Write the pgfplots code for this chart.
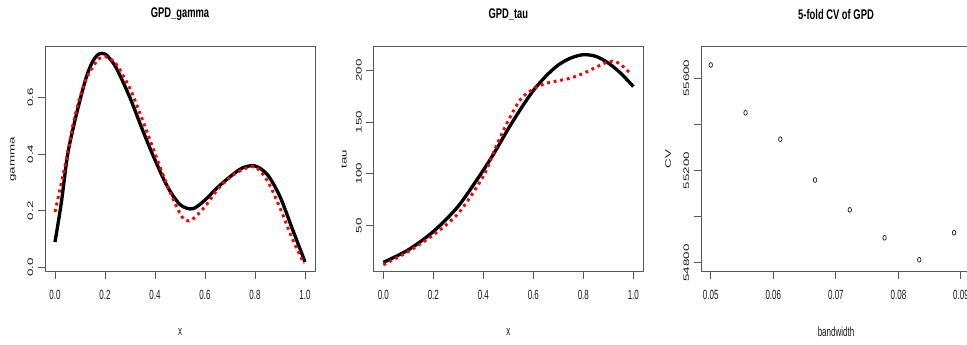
\documentclass[border=0pt]{standalone}
\usepackage{fontspec}
\setmainfont{Liberation Sans}
\usepackage{graphicx}
\usepackage{pgfplots}
\pgfplotsset{compat=1.18}
\newcommand{\hx}[1]{\scalebox{0.6}[1]{#1}}
\newcommand{\vx}[1]{\scalebox{1}[0.6]{#1}}
\newcommand{\hb}[1]{\scalebox{0.67}[1]{#1}}
\newcommand{\tk}{\fontsize{10}{10}\selectfont}
\definecolor{fr}{gray}{0.35}
\pgfplotsset{rstyle/.style={
  scale only axis, width=202.5pt, height=169.1pt,
  axis line style={draw=fr, line width=0.75pt},
  every tick/.style={draw=fr, line width=0.75pt},
  tick align=outside, major tick length=5.25pt,
  tick pos=left,
  title style={at={(0.5,1.142)}, anchor=center, yshift=-6pt, font=\fontsize{10.5}{12}\selectfont\bfseries},
  xlabel style={at={(0.5,-0.266)}, anchor=center, font=\tk, text=black!90},
  ylabel style={anchor=center, font=\tk, text=black!90},
  xticklabel style={font=\tk, text=black!90, yshift=-4.5pt},
  yticklabel style={font=\tk, text=black!90, rotate=90, anchor=south},
  clip=true,
}}
\begin{document}
\begin{tikzpicture}
% Panel 1
\begin{axis}[rstyle, at={(33.75pt,54.75pt)}, anchor=south west,
  xmin=-0.04, xmax=1.04, ymin=-0.0155, ymax=0.7785,
  xtick={0,0.2,0.4,0.6,0.8,1}, xticklabels={\hx{0.0},\hx{0.2},\hx{0.4},\hx{0.6},\hx{0.8},\hx{1.0}},
  ytick={0,0.2,0.4,0.6}, yticklabels={\vx{0.0},\vx{0.2},\vx{0.4},\vx{0.6}},
  title={\hb{GPD\_gamma}}, xlabel={\hx{x}}, ylabel={\vx{gamma}},
  ylabel style={at={(-0.117,0.5)}}]
\addplot[black, line width=2.5pt, smooth] coordinates {
(0,0.09) (0.025,0.227) (0.05,0.395) (0.075,0.50) (0.1,0.59) (0.125,0.67) (0.15,0.725) (0.175,0.752) (0.2,0.752) (0.225,0.73) (0.25,0.695) (0.3,0.598) (0.35,0.485) (0.4,0.379) (0.45,0.285) (0.5,0.222) (0.55,0.207) (0.6,0.238) (0.65,0.282) (0.7,0.32) (0.75,0.351) (0.8,0.358) (0.85,0.327) (0.9,0.25) (0.95,0.135) (1.0,0.02)};
\addplot[red, line width=2.2pt, dash pattern=on 2.2pt off 2.8pt, smooth] coordinates {
(0,0.196) (0.025,0.297) (0.05,0.40) (0.075,0.515) (0.1,0.60) (0.125,0.665) (0.15,0.705) (0.175,0.735) (0.2,0.743) (0.225,0.733) (0.25,0.71) (0.3,0.63) (0.35,0.52) (0.4,0.402) (0.45,0.287) (0.5,0.19) (0.525,0.166) (0.55,0.17) (0.6,0.215) (0.65,0.275) (0.7,0.318) (0.75,0.345) (0.8,0.355) (0.85,0.305) (0.9,0.21) (0.95,0.1) (0.996,0.014)};
\end{axis}
% Panel 2
\begin{axis}[rstyle, at={(280pt,54.75pt)}, anchor=south west,
  xmin=-0.04, xmax=1.04, ymin=5.2, ymax=223,
  xtick={0,0.2,0.4,0.6,0.8,1}, xticklabels={\hx{0.0},\hx{0.2},\hx{0.4},\hx{0.6},\hx{0.8},\hx{1.0}},
  ytick={50,100,150,200}, yticklabels={\vx{50},\vx{100},\vx{150},\vx{200}},
  title={\hb{GPD\_tau}}, xlabel={\hx{x}}, ylabel={\vx{tau}},
  ylabel style={at={(-0.108,0.5)}}]
\addplot[black, line width=2.5pt, smooth] coordinates {
(0,14.5) (0.1,26.6) (0.2,44.3) (0.3,68.9) (0.4,103.6) (0.45,122.8) (0.5,143.6) (0.55,162.9) (0.6,180.5) (0.65,194.3) (0.7,205.2) (0.75,211.9) (0.8,215.1) (0.85,213.5) (0.9,207) (0.95,197.1) (1.0,184.3)};
\addplot[red, line width=2.2pt, dash pattern=on 2.2pt off 2.8pt, smooth] coordinates {
(0,12.2) (0.1,25) (0.2,41) (0.3,61.9) (0.4,97.8) (0.45,126) (0.5,151.6) (0.55,172.4) (0.6,182) (0.65,187.5) (0.7,190) (0.75,192.6) (0.8,197.1) (0.85,202.9) (0.9,208.3) (0.93,208.3) (0.96,203.5) (0.99,196.5)};
\end{axis}
% Panel 3
\begin{axis}[rstyle, at={(525.75pt,54.75pt)}, anchor=south west,
  xmin=0.04844, xmax=0.0916, ymin=54761, ymax=55737,
  xtick={0.05,0.06,0.07,0.08,0.09}, xticklabels={\hx{0.05},\hx{0.06},\hx{0.07},\hx{0.08},\hx{0.09}},
  ytick={54800,55000,55200,55400,55600}, yticklabels={\vx{54800},,\vx{55200},,\vx{55600}},
  scaled ticks=false,
  title={\hb{5-fold CV of GPD}}, xlabel={\hx{bandwidth}}, ylabel={\vx{CV}},
  ylabel style={at={(-0.122,0.5)}}]
\addplot[only marks, mark=o, mark size=1.8pt, black!85, mark options={xscale=0.72, line width=0.55pt}] coordinates {
(0.05,55657) (0.05556,55450) (0.06111,55336) (0.06667,55159) (0.07222,55030) (0.07778,54909) (0.08333,54814) (0.08889,54931)};
\end{axis}
\pgfresetboundingbox
\path[use as bounding box] (0,0) rectangle (725.25pt,258.75pt);
\end{tikzpicture}
\end{document}
